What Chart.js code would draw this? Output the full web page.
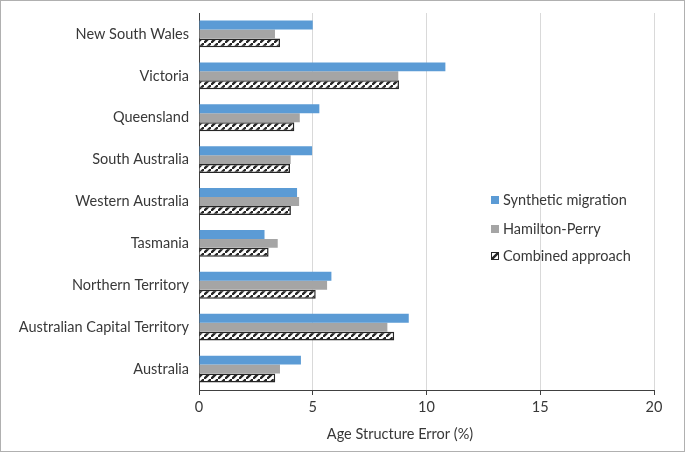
<!DOCTYPE html>
<html>
<head>
<meta charset="utf-8">
<script src="https://cdn.jsdelivr.net/npm/chart.js@4/dist/chart.umd.min.js"></script>
<style>
  html, body { margin: 0; padding: 0; background: #fff; }
  #wrap { position: relative; width: 685px; height: 452px; box-sizing: border-box; border: 1px solid #b0b0b0; }
  canvas { display: block; }
</style>
</head>
<body>
<div id="wrap"><canvas id="chart" width="683" height="450"></canvas></div>
<script>
// Age structure error by state
const regions = ['New South Wales', 'Victoria', 'Queensland', 'South Australia', 'Western Australia',
                 'Tasmania', 'Northern Territory', 'Australian Capital Territory', 'Australia'];
const synthetic = [5.0, 10.83, 5.29, 4.97, 4.31, 2.88, 5.82, 9.22, 4.48];
const hamilton  = [3.34, 8.76, 4.43, 4.03, 4.40, 3.46, 5.63, 8.28, 3.56];
const combined  = [3.56, 8.79, 4.19, 4.00, 4.04, 3.06, 5.13, 8.58, 3.35];
const xTicks = [0, 5, 10, 15, 20];
const xTitle = 'Age Structure Error (%)';

const FONT = 'Lato, "Open Sans", sans-serif';
const FSIZE = 14.5;
const TEXT = '#383838';

// diagonal hatch used for the combined approach
function makeHatch() {
  const n = 7;
  const c = document.createElement('canvas');
  c.width = n; c.height = n;
  const g = c.getContext('2d');
  g.fillStyle = '#fff';
  g.fillRect(0, 0, n, n);
  g.strokeStyle = '#262626';
  g.lineWidth = 2.4;
  g.beginPath();
  g.moveTo(-1, n + 1); g.lineTo(n + 1, -1);
  g.moveTo(-n - 1, 1); g.lineTo(1, -n - 1);
  g.moveTo(n - 1, 2 * n + 1); g.lineTo(2 * n + 1, n - 1);
  g.stroke();
  return g.createPattern(c, 'repeat');
}
const ctx = document.getElementById('chart').getContext('2d');
const hatch = makeHatch();

const legendItems = [
  { text: 'Synthetic migration', fill: '#5b9bd5', stroke: null },
  { text: 'Hamilton-Perry', fill: '#a5a5a5', stroke: null },
  { text: 'Combined approach', fill: hatch, stroke: '#262626' }
];

// legend inside the plot and the axis title, placed like the original
const extrasPlugin = {
  id: 'extras',
  afterDraw(chart) {
    const c = chart.ctx;
    c.save();
    c.font = FSIZE + 'px ' + FONT;
    c.textBaseline = 'middle';
    const ys = [199, 228, 255];
    legendItems.forEach((it, i) => {
      const y = ys[i];
      c.fillStyle = it.fill;
      c.fillRect(490, y - 4, 8, 8);
      if (it.stroke) {
        c.strokeStyle = it.stroke;
        c.lineWidth = 1;
        c.strokeRect(490.5, y - 3.5, 7, 7);
      }
      c.fillStyle = TEXT;
      c.fillText(it.text, 502, y);
    });
    c.textAlign = 'center';
    c.fillText(xTitle, 399, 433);
    c.restore();
  }
};

new Chart(ctx, {
  type: 'bar',
  data: {
    labels: regions,
    datasets: [
      { label: 'Synthetic migration', data: synthetic, backgroundColor: '#5b9bd5', borderWidth: 0 },
      { label: 'Hamilton-Perry', data: hamilton, backgroundColor: '#a5a5a5', borderWidth: 0 },
      { label: 'Combined approach', data: combined, backgroundColor: hatch, borderColor: '#262626', borderWidth: 1.5 }
    ]
  },
  options: {
    indexAxis: 'y',
    responsive: false,
    animation: false,
    layout: { padding: { left: 0, right: 30, top: 12, bottom: 6 } },
    datasets: { bar: { categoryPercentage: 0.64, barPercentage: 1.0 } },
    plugins: {
      legend: { display: false },
      tooltip: { enabled: false }
    },
    scales: {
      x: {
        min: 0, max: 20,
        afterBuildTicks: (s) => { s.ticks = xTicks.map(v => ({ value: v })); },
        grid: { color: '#d9d9d9', tickColor: '#404040', tickLength: 5 },
        border: { color: '#404040', width: 1 },
        ticks: { color: TEXT, font: { family: FONT, size: FSIZE }, padding: 4 },
        afterFit: (s) => { s.height = 55; }
      },
      y: {
        grid: { color: 'rgba(0,0,0,0)', drawTicks: false },
        border: { color: '#404040', width: 1 },
        ticks: { color: TEXT, font: { family: FONT, size: FSIZE }, padding: 10 },
        afterFit: (s) => { s.width = 198; s.paddingTop = 0; s.paddingBottom = 0; }
      }
    }
  },
  plugins: [extrasPlugin]
});
</script>
</body>
</html>
